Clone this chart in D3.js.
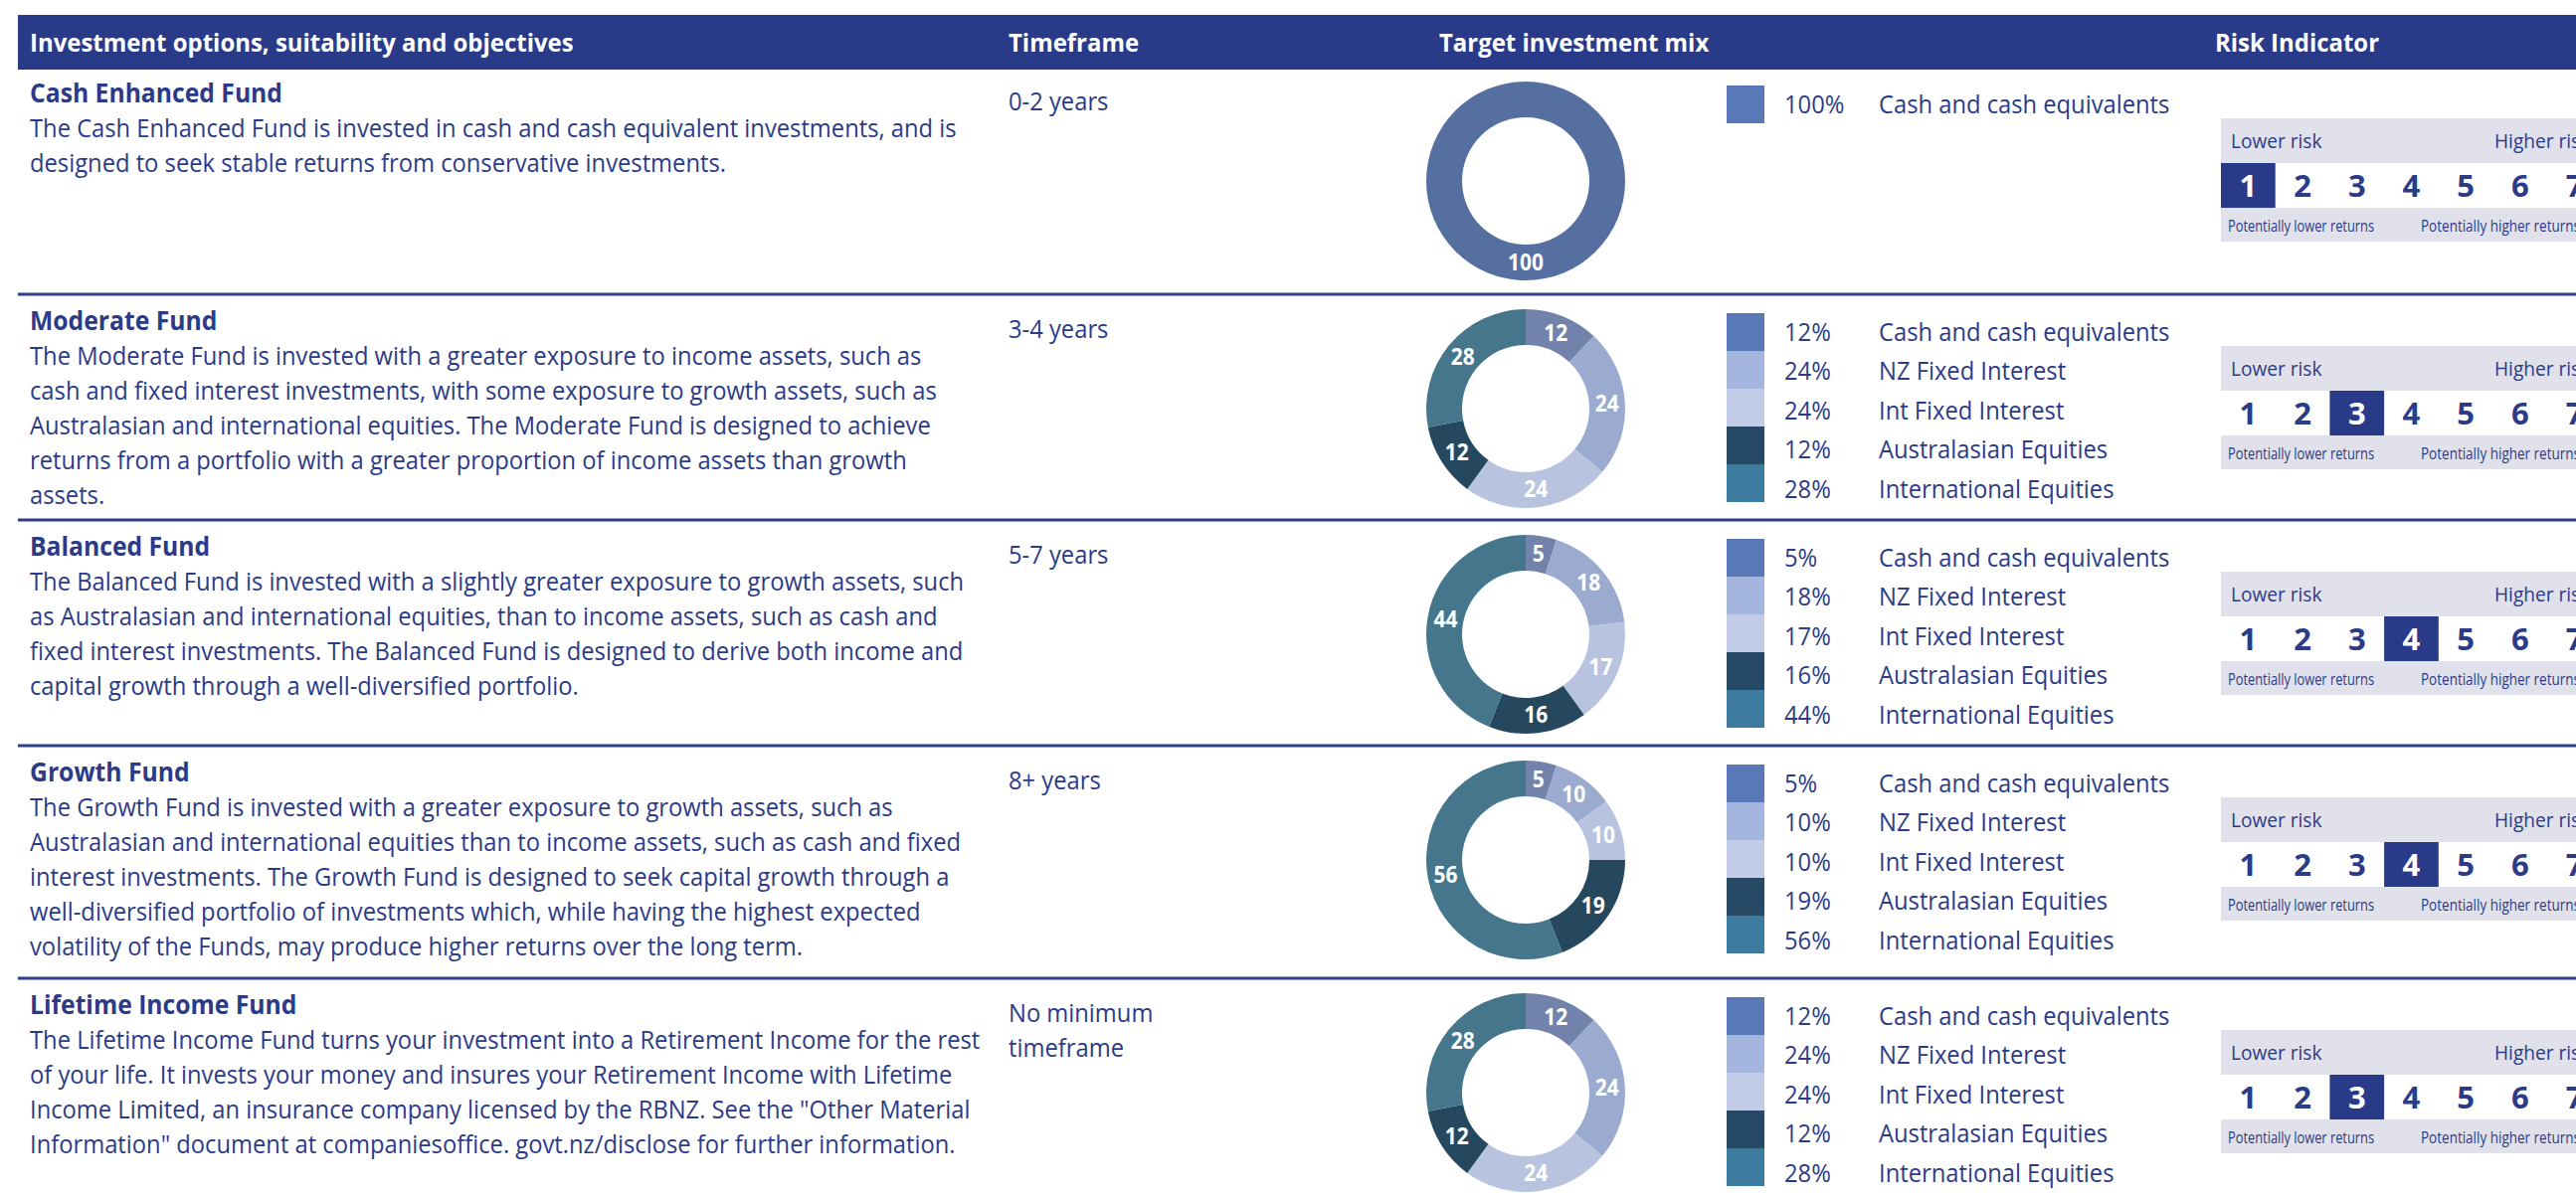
<!DOCTYPE html>
<html>
<head>
<meta charset="utf-8">
<script src="https://cdn.jsdelivr.net/npm/d3@7"></script>
<style>
  body { margin: 0; background: #fff; }
  svg { display: block; font-family: "Open Sans", "Noto Sans", sans-serif; }
</style>
</head>
<body>
<svg id="chart" width="2590" height="1203"></svg>
<script>
// column headings
const headers = ["Investment options, suitability and objectives", "Timeframe", "Target investment mix", "Risk Indicator"];

const funds = ["Cash Enhanced Fund", "Moderate Fund", "Balanced Fund", "Growth Fund", "Lifetime Income Fund"];

const descriptions = [
  ["The Cash Enhanced Fund is invested in cash and cash equivalent investments, and is",
   "designed to seek stable returns from conservative investments."],
  ["The Moderate Fund is invested with a greater exposure to income assets, such as",
   "cash and fixed interest investments, with some exposure to growth assets, such as",
   "Australasian and international equities. The Moderate Fund is designed to achieve",
   "returns from a portfolio with a greater proportion of income assets than growth",
   "assets."],
  ["The Balanced Fund is invested with a slightly greater exposure to growth assets, such",
   "as Australasian and international equities, than to income assets, such as cash and",
   "fixed interest investments. The Balanced Fund is designed to derive both income and",
   "capital growth through a well-diversified portfolio."],
  ["The Growth Fund is invested with a greater exposure to growth assets, such as",
   "Australasian and international equities than to income assets, such as cash and fixed",
   "interest investments. The Growth Fund is designed to seek capital growth through a",
   "well-diversified portfolio of investments which, while having the highest expected",
   "volatility of the Funds, may produce higher returns over the long term."],
  ["The Lifetime Income Fund turns your investment into a Retirement Income for the rest",
   "of your life.  It invests your money and insures your Retirement Income with Lifetime",
   "Income Limited, an insurance company licensed by the RBNZ. See the \"Other Material",
   "Information\" document at companiesoffice. govt.nz/disclose for further information."]
];

const timeframes = [["0-2 years"], ["3-4 years"], ["5-7 years"], ["8+ years"], ["No minimum", "timeframe"]];

const assetClasses = ["Cash and cash equivalents", "NZ Fixed Interest", "Int Fixed Interest", "Australasian Equities", "International Equities"];

// target mix (%) per fund, in assetClasses order
const mixes = [
  [100],
  [12, 24, 24, 12, 28],
  [5, 18, 17, 16, 44],
  [5, 10, 10, 19, 56],
  [12, 24, 24, 12, 28]
];

const riskLevels = [1, 3, 4, 4, 3];
const riskSteps = [1, 2, 3, 4, 5, 6, 7];
const riskLabels = ["Lower risk", "Higher risk"];
const returnLabels = ["Potentially lower returns", "Potentially higher returns"];

// styling
const navy = "#2b3b87";
const headerFill = "#293b88";
const legendColors = ["#5878b8", "#a5b6de", "#c3cde8", "#264a66", "#3d7ba0"];
const donutColors = ["#7183ab", "#9aabcf", "#b8c4df", "#26485e", "#45768c"];
const soloColor = "#546fa0";
const riskBg = "#e1e1ec";

const rowTops = [67, 296, 523, 750, 984];
const colX = [30, 1014, 1447, 2227];

const svg = d3.select("#chart");

// measure the font so text widths follow the original narrow face
const probe = svg.append("text")
  .attr("font-size", 25.5)
  .text(descriptions[2][0]);
const sx = 940 / probe.node().getComputedTextLength();
probe.remove();

function label(g, x, y, txt, opts) {
  opts = opts || {};
  return g.append("text")
    .attr("transform", "translate(" + x + "," + y + ") scale(" + (opts.scale || sx) + ",1)")
    .attr("font-size", opts.size || 25.5)
    .attr("font-weight", opts.bold ? 700 : 400)
    .attr("fill", opts.fill || navy)
    .attr("text-anchor", opts.anchor || "start")
    .text(txt);
}

// header bar
svg.append("rect")
  .attr("x", 18).attr("y", 15)
  .attr("width", 2590 - 18).attr("height", 55)
  .attr("fill", headerFill);

headers.forEach((h, i) => {
  label(svg, colX[i], 52, h, { bold: true, size: 25.7, fill: "#fff" });
});

// row separators
svg.selectAll("line.sep")
  .data(rowTops.slice(1))
  .join("line")
  .attr("class", "sep")
  .attr("x1", 18).attr("x2", 2590)
  .attr("y1", d => d).attr("y2", d => d)
  .attr("stroke", "#2e3f8c")
  .attr("stroke-width", 3);

const pie = d3.pie().sort(null).value(d => d);
const arc = d3.arc().innerRadius(64).outerRadius(100);

const cellScale = d3.scaleBand()
  .domain(riskSteps)
  .range([2233, 2233 + 54.7 * riskSteps.length])
  .padding(0);

funds.forEach((fund, r) => {
  const top = rowTops[r];
  const g = svg.append("g").attr("class", "row");

  // description column
  label(g, colX[0], top + 36, fund, { bold: true, size: 26.5 });
  descriptions[r].forEach((line, j) => {
    label(g, colX[0], top + 71 + j * 35, line);
  });

  // timeframe
  timeframes[r].forEach((t, j) => {
    label(g, colX[1], top + 44 + j * 35, t);
  });

  // donut
  const mix = mixes[r];
  const donut = g.append("g").attr("transform", "translate(1534," + (top + 115) + ")");
  const arcs = pie(mix);
  donut.selectAll("path")
    .data(arcs)
    .join("path")
    .attr("d", arc)
    .attr("fill", (d, i) => mix.length === 1 ? soloColor : donutColors[i]);
  arcs.forEach(d => {
    const c = arc.centroid(d);
    label(donut, c[0], c[1] + 8, d.data, { bold: true, size: 22.5, fill: "#fff", anchor: "middle" });
  });

  // legend: swatches stack at 38px, text rows run slightly looser
  const legendScale = d3.scaleBand()
    .domain(d3.range(mix.length))
    .range([top + 19, top + 19 + 38 * mix.length]);
  const textScale = d3.scaleLinear()
    .domain([0, 1])
    .range([top + 19 + 19 + 9, top + 19 + 19 + 9 + 39.4]);
  mix.forEach((v, i) => {
    g.append("rect")
      .attr("x", 1736).attr("y", legendScale(i))
      .attr("width", 38).attr("height", legendScale.bandwidth())
      .attr("fill", legendColors[i]);
    const by = textScale(i);
    label(g, 1794, by, v + "%");
    label(g, 1889, by, assetClasses[i]);
  });

  // risk indicator
  const boxTop = top + 52;
  const x0 = cellScale.range()[0], x1 = cellScale.range()[1];
  g.append("rect")
    .attr("x", x0).attr("y", boxTop)
    .attr("width", x1 - x0).attr("height", 124)
    .attr("fill", riskBg);
  g.append("rect")
    .attr("x", x0).attr("y", boxTop + 45)
    .attr("width", x1 - x0).attr("height", 45)
    .attr("fill", "#fff");
  g.selectAll("rect.cell")
    .data(riskSteps.filter(s => s === riskLevels[r]))
    .join("rect")
    .attr("class", "cell")
    .attr("x", d => cellScale(d)).attr("y", boxTop + 45)
    .attr("width", cellScale.bandwidth()).attr("height", 45)
    .attr("fill", headerFill);
  riskSteps.forEach(s => {
    label(g, cellScale(s) + cellScale.bandwidth() / 2, boxTop + 79, s, {
      bold: true, size: 31, anchor: "middle", scale: 1,
      fill: s === riskLevels[r] ? "#fff" : navy
    });
  });
  label(g, 2243, boxTop + 30, riskLabels[0], { size: 20.5 });
  label(g, 2508, boxTop + 30, riskLabels[1], { size: 20.5 });
  g.append("text")
    .attr("x", 2240).attr("y", boxTop + 114)
    .attr("font-size", 16.5).attr("fill", navy)
    .attr("textLength", 147).attr("lengthAdjust", "spacingAndGlyphs")
    .text(returnLabels[0]);
  g.append("text")
    .attr("x", 2434).attr("y", boxTop + 114)
    .attr("font-size", 16.5).attr("fill", navy)
    .attr("textLength", 160).attr("lengthAdjust", "spacingAndGlyphs")
    .text(returnLabels[1]);
});
</script>
</body>
</html>
